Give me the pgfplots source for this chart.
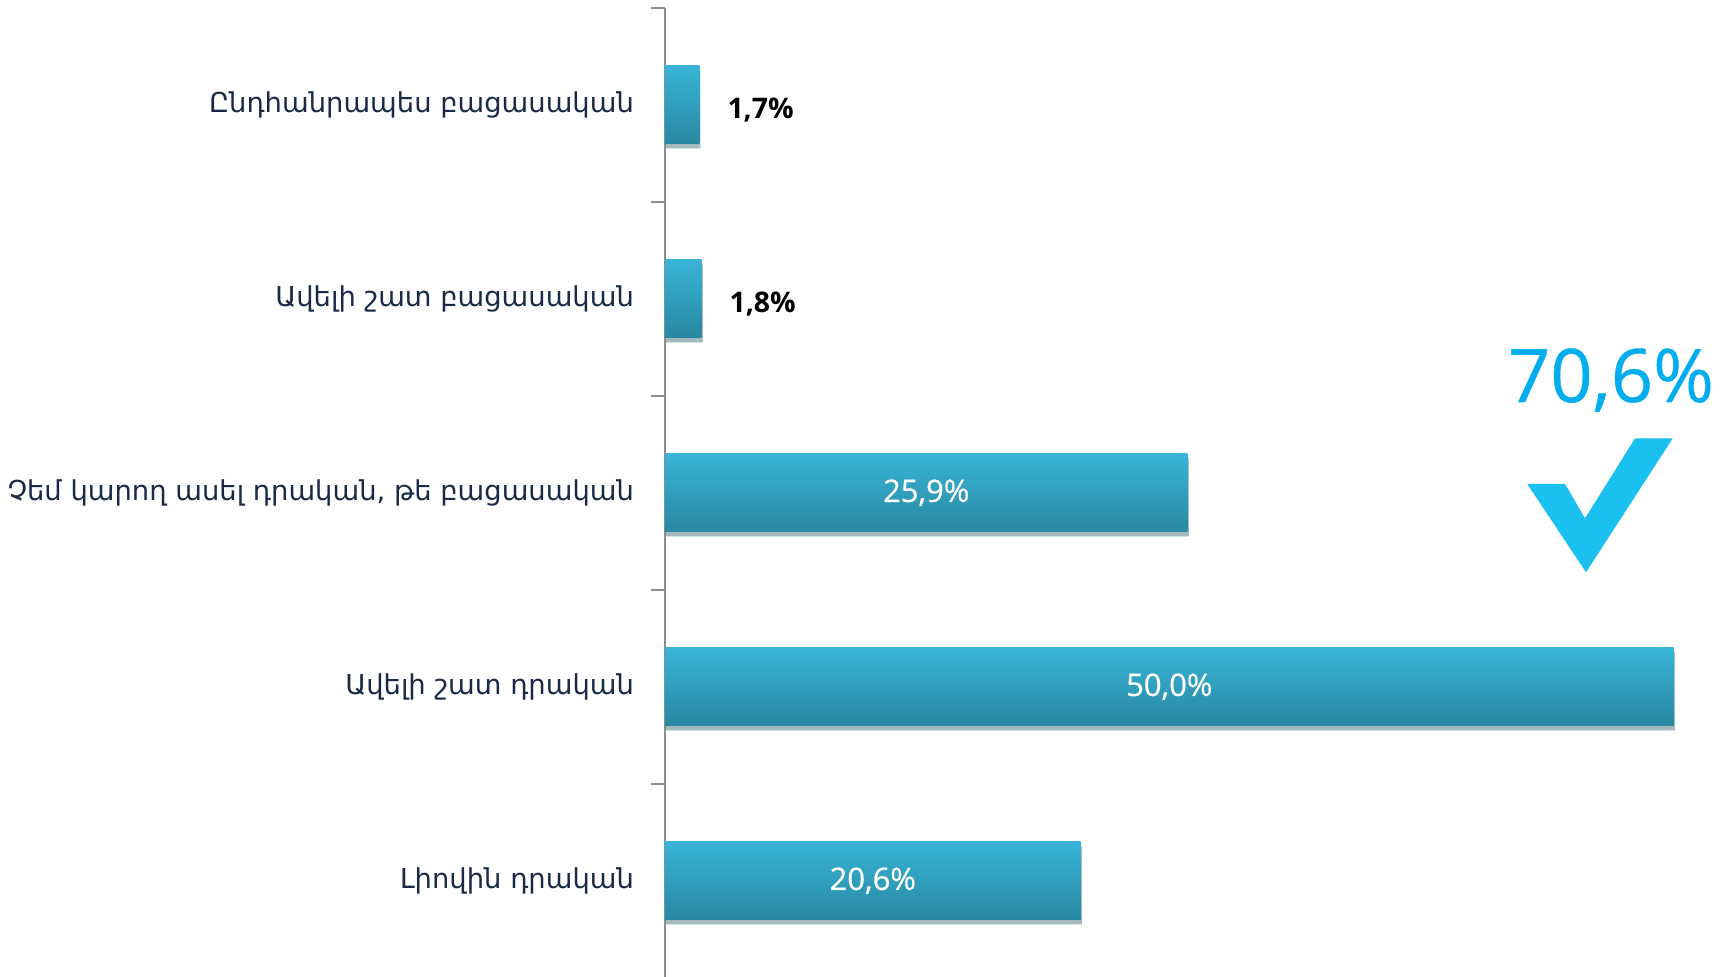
\documentclass[border=0pt]{standalone}
\usepackage{fontspec}
\setmainfont{Open Sans}
\newfontfamily\armfont{DejaVu Sans}
\newfontfamily\semib[FakeBold=0.5]{Open Sans}
\usepackage{pgfplots}
\pgfplotsset{compat=1.18}
\usetikzlibrary{shadows}
\definecolor{bartop}{RGB}{56,180,216}
\definecolor{barbot}{RGB}{40,136,160}
\definecolor{labnavy}{RGB}{25,42,70}
\definecolor{bigblue}{RGB}{0,174,239}
\definecolor{checkblue}{RGB}{25,192,240}
\definecolor{axisgray}{RGB}{140,140,140}
\begin{document}
\begin{tikzpicture}
\path[use as bounding box] (-332.5pt,0.75pt) rectangle (531.5pt,488.85pt);
\begin{axis}[
  at={(0pt,0pt)}, anchor=south west,
  scale only axis, width=531.5pt, height=485pt,
  xmin=0, xmax=52.7, ymin=-0.5, ymax=4.5,
  axis x line=none, axis y line*=left,
  y axis line style={draw=axisgray, line width=1pt, -},
  ytick={-0.5,0.5,1.5,2.5,3.5,4.5}, yticklabels={},
  major tick length=7pt, ytick align=outside,
  ytick style={draw=axisgray, line width=1pt},
  extra y ticks={0,1,2,3,4},
  extra y tick labels={Լիովին դրական, Ավելի շատ դրական, {Չեմ կարող ասել դրական, թե բացասական}, Ավելի շատ բացասական, Ընդհանրապես բացասական},
  extra y tick style={major tick length=0pt, ytick style={draw=none}},
  yticklabel style={font=\armfont\fontsize{13.7}{16}\selectfont, text=labnavy, xshift=-12pt},
  xbar, bar width=39pt, bar shift=0pt,
  clip=false,
  every axis plot/.append style={draw=none, top color=bartop, bottom color=barbot,
    drop shadow={shadow xshift=0.6pt, shadow yshift=-2.2pt, opacity=0.22, fill=black}},
]
\addplot coordinates {(1.7,4)};
\addplot coordinates {(1.8,3)};
\addplot coordinates {(25.9,2)};
\addplot coordinates {(50.0,1)};
\addplot coordinates {(20.6,0)};
\node[anchor=west, font=\bfseries\fontsize{14.2}{17}\selectfont, text=black, yshift=-2.5pt] at (axis cs:2.75,4) {1,7\%};
\node[anchor=west, font=\bfseries\fontsize{14.2}{17}\selectfont, text=black, yshift=-2.5pt] at (axis cs:2.85,3) {1,8\%};
\node[font=\semib\fontsize{15.5}{18}\selectfont, text=white] at (axis cs:12.95,2) {25,9\%};
\node[font=\semib\fontsize{15.5}{18}\selectfont, text=white] at (axis cs:25,1) {50,0\%};
\node[font=\semib\fontsize{15.5}{18}\selectfont, text=white] at (axis cs:10.3,0) {20,6\%};
\node[font=\semib\fontsize{37}{44}\selectfont, text=bigblue] at (axis cs:46.9,2.581) {70,6\%};
\fill[checkblue] (axis cs:42.75,2.045) -- (axis cs:44.62,2.045) -- (axis cs:45.61,1.868) -- (axis cs:48.09,2.280) -- (axis cs:49.96,2.280) -- (axis cs:45.66,1.590) -- cycle;
\end{axis}
\end{tikzpicture}
\end{document}
